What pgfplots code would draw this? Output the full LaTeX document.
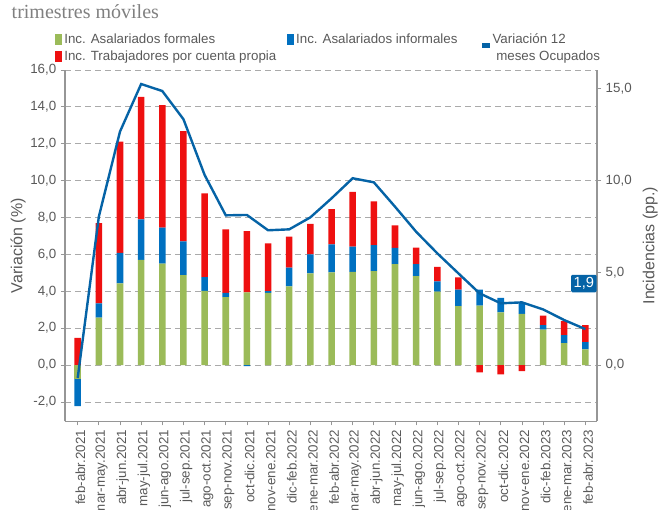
\documentclass[border=0pt]{standalone}
\usepackage{pgfplots}
\usepackage{pgfplotstable}
\pgfplotsset{compat=1.18}
\usepackage{fontspec}
\setmainfont{Liberation Sans}
\newfontfamily\titlefont{Liberation Serif}
\definecolor{cgreen}{RGB}{155,187,89}
\definecolor{cblue}{RGB}{0,112,192}
\definecolor{cred}{RGB}{238,16,16}
\definecolor{cline}{RGB}{5,99,166}
\definecolor{cgrid}{RGB}{170,170,170}
\definecolor{caxis}{RGB}{150,150,150}
\definecolor{ctext}{RGB}{89,89,89}

% idx: category; gpos/bpos/rpos: positive parts; gneg/bneg/rneg: negative parts; line: Variacion 12 meses
\pgfplotstableread{
idx gpos bpos rpos gneg bneg rneg line
0  0    0    1.48 -0.76 -1.46 0     -0.70
1  2.57 0.78 4.35 0     0     0      8.05
2  4.43 1.65 6.04 0     0     0     12.66
3  5.70 2.20 6.64 0     0     0     15.24
4  5.50 1.95 6.65 0     0     0     14.86
5  4.88 1.83 5.98 0     0     0     13.33
6  4.03 0.74 4.54 0     0     0     10.31
7  3.69 0.23 3.44 0     0     0      8.12
8  3.94 0    3.33 0     -0.06 0      8.14
9  3.91 0.10 2.59 0     0     0      7.31
10 4.27 1.01 1.68 0     0     0      7.36
11 4.97 1.03 1.65 0     0     0      8.01
12 5.03 1.52 1.91 0     0     0      9.04
13 5.06 1.36 2.97 0     0     0     10.13
14 5.10 1.41 2.37 0     0     0      9.91
15 5.48 0.87 1.23 0     0     0      8.59
16 4.83 0.65 0.89 0     0     0      7.23
17 3.98 0.56 0.79 0     0     0      6.06
18 3.20 0.89 0.67 0     0     0      4.97
19 3.22 0.87 0    0     0     -0.40  3.89
20 2.86 0.79 0    0     0     -0.51  3.35
21 2.77 0.65 0    0     0     -0.33  3.40
22 1.92 0.25 0.51 0     0     0      3.02
23 1.19 0.44 0.76 0     0     0      2.44
24 0.85 0.40 0.92 0     0     0      1.95
}\data

\pgfplotsset{
  base/.style={width=399pt,height=263.5pt,scale only axis,
    at={(0,0)},anchor=south west,
    xmin=-0.6,xmax=24.55,ymin=-3.05,ymax=16,
    tick align=outside, major tick length=3pt,
    tick style={draw=caxis,line width=0.6pt},
    axis line style={draw=caxis,line width=0.8pt},
    tick label style={font=\fontsize{10}{12}\selectfont,text=ctext},
    label style={font=\fontsize{12}{14}\selectfont,text=ctext},
    /pgf/number format/use comma,
    /pgf/number format/fixed,
    /pgf/number format/fixed zerofill,
    /pgf/number format/precision=1,
    /pgf/number format/assume math mode=true},
  bars/.style={ybar stacked,bar width=4.9pt},
}

\begin{document}
\begin{tikzpicture}
% positive stacks, left axis, x axis, grid
\begin{axis}[base,bars,
  axis x line*=bottom, axis y line*=left,
  ymajorgrids,
  grid style={cgrid,line width=0.6pt,dash pattern=on 4.5pt off 3pt},
  ytick={-2,0,2,4,6,8,10,12,14,16},
  xtick={0,...,24},
  xticklabels={feb-abr.2021,mar-may.2021,abr-jun.2021,may-jul.2021,jun-ago.2021,jul-sep.2021,ago-oct.2021,sep-nov.2021,oct-dic.2021,nov-ene.2021,dic-feb.2022,ene-mar.2022,feb-abr.2022,mar-may.2022,abr-jun.2022,may-jul.2022,jun-ago.2022,jul-sep.2022,ago-oct.2022,sep-nov.2022,oct-dic.2022,nov-ene.2022,dic-feb.2023,ene-mar.2023,feb-abr.2023},
  x tick label style={rotate=90,anchor=east,yshift=-2pt},
  ylabel={Variación (\%)},
  ylabel style={at={(axis description cs:-0.088,0.5)},anchor=center},
]
\addplot[fill=cgreen,draw=none] table[x=idx,y=gpos]{\data};
\addplot[fill=cblue,draw=none] table[x=idx,y=bpos]{\data};
\addplot[fill=cred,draw=none] table[x=idx,y=rpos]{\data};
\end{axis}
% negative stacks
\begin{axis}[base,bars,hide axis]
\addplot[fill=cgreen,draw=none] table[x=idx,y=gneg]{\data};
\addplot[fill=cblue,draw=none] table[x=idx,y=bneg]{\data};
\addplot[fill=cred,draw=none] table[x=idx,y=rneg]{\data};
\end{axis}
% line, right axis, legend
\begin{axis}[base,
  axis y line*=right, axis x line=none,
  ytick={0,5,10,15},
  ylabel={Incidencias (pp.)},
  ylabel style={at={(axis description cs:1.1,0.5)},anchor=center,rotate=0},
  legend columns=3,
  legend cell align=left,
  legend style={at={(axis description cs:-0.019,1.112)},anchor=north west,
    draw=none,fill=none,font=\fontsize{10}{12}\selectfont,text=ctext,
    inner sep=0pt,row sep=0pt,
    /tikz/column 2/.style={column sep=6pt},
    /tikz/column 4/.style={column sep=16pt}},
]
\addlegendimage{legend image code/.code={\fill[cgreen] (0pt,-3.5pt) rectangle (4.5pt,4pt);}}
\addlegendentry{Inc. Asalariados formales}
\addlegendimage{legend image code/.code={\fill[cblue] (0pt,-3.5pt) rectangle (4.5pt,4pt);}}
\addlegendentry{Inc. Asalariados informales}
\addplot[cline,line width=1.8pt,sharp plot,
  legend image code/.code={\fill[cline] (0pt,-5.5pt) rectangle (4.5pt,-3.5pt);}]
  table[x=idx,y=line]{\data};
\addlegendentry{Variación 12}
\addlegendimage{legend image code/.code={\fill[cred] (0pt,-3.5pt) rectangle (4.5pt,4pt);}}
\addlegendentry{Inc. Trabajadores por cuenta propia}
\addlegendimage{empty legend}
\addlegendentry{}
\addlegendimage{empty legend}
\addlegendentry{\ meses Ocupados}
\node[fill=cline,text=white,anchor=east,inner sep=2pt,rounded corners=1pt,
  font=\fontsize{11}{13}\selectfont] at (axis cs:24.55,4.42) {1,9};
\end{axis}
\node[anchor=base west,font=\titlefont\fontsize{15}{18}\selectfont,text=gray]
  at (-43.5pt,301.75pt) {trimestres móviles};
\pgfresetboundingbox
\useasboundingbox (-48.75pt,-66.5pt) rectangle (446.25pt,316pt);
\end{tikzpicture}
\end{document}
